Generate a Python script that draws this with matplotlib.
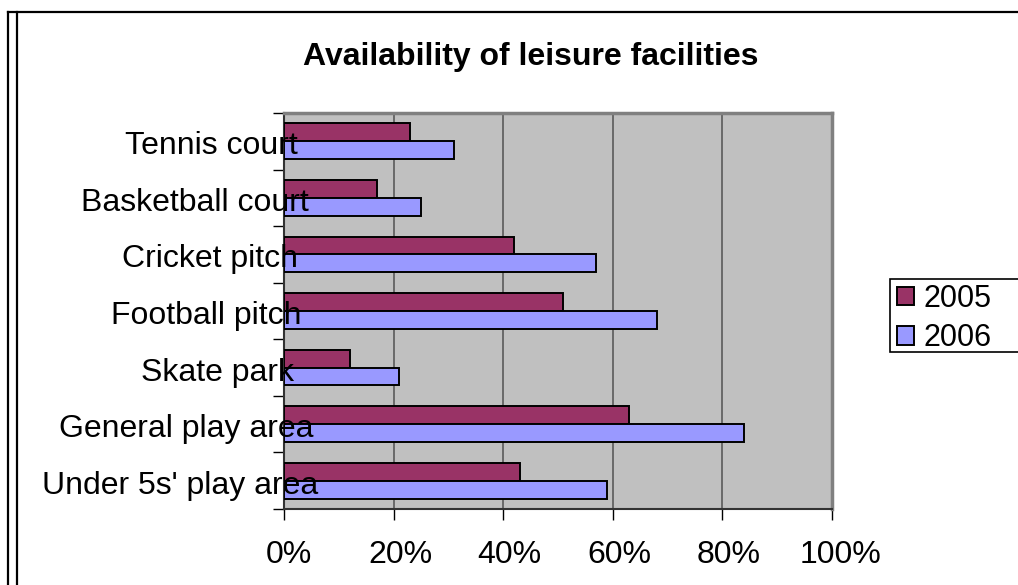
import matplotlib
matplotlib.use("Agg")
import matplotlib.pyplot as plt
from matplotlib.patches import Patch, Rectangle
from matplotlib.lines import Line2D
import numpy as np

plt.rcParams['font.family'] = ['Liberation Sans', 'DejaVu Sans']

# data, top to bottom as in the chart
facilities = ["Tennis court", "Basketball court", "Cricket pitch", "Football pitch",
              "Skate park", "General play area", "Under 5s' play area"]
pct_2005 = [23, 17, 42, 51, 12, 63, 43]
pct_2006 = [31, 25, 57, 68, 21, 84, 59]
years = ["2005", "2006"]
colors = ["#993366", "#9999FF"]
xticks = [0, 20, 40, 60, 80, 100]

W, H = 1018, 585
fig = plt.figure(figsize=(W / 100, H / 100), dpi=100)

# outer double border
for x0 in (8, 17):
    fig.add_artist(Line2D([x0 / W, x0 / W], [0, 1 - 12 / H], transform=fig.transFigure, color='black', lw=1.6))
fig.add_artist(Line2D([8 / W, 1], [1 - 12 / H, 1 - 12 / H], transform=fig.transFigure, color='black', lw=1.6))

ax = fig.add_axes([284 / W, 1 - 509 / H, (832 - 284) / W, (509 - 113) / H])
ax.set_facecolor('#C0C0C0')

n = len(facilities)
ypos = np.arange(n)[::-1]  # first category at top
h = 0.315
ax.barh(ypos + h / 2, pct_2005, height=h, color=colors[0], edgecolor='black', linewidth=1.4, zorder=3)
ax.barh(ypos - h / 2, pct_2006, height=h, color=colors[1], edgecolor='black', linewidth=1.4, zorder=3)

ax.set_xlim(0, 100)
ax.set_ylim(-0.5, n - 0.5)

# x axis ticks (labels placed below as figure text)
ax.set_xticks(xticks)
ax.set_xticklabels([])
ax.tick_params(axis='x', direction='out', length=8, width=1, color='black')
ax.xaxis.grid(True, color='#5a5a5a', linewidth=1.2, zorder=0)

# y axis: tick marks between categories
ax.set_yticks(np.arange(-0.5, n, 1.0))
ax.set_yticklabels([])
ax.tick_params(axis='y', direction='out', length=8, width=1, color='black')

for s in ['top', 'right']:
    ax.spines[s].set_color('#808080')
    ax.spines[s].set_linewidth(2.5)
for s in ['left', 'bottom']:
    ax.spines[s].set_color('#333333')
    ax.spines[s].set_linewidth(1.5)
ax.set_axisbelow(True)

fig.text(531 / W, 1 - 57 / H, "Availability of leisure facilities", ha='center', va='center',
         fontsize=23, fontweight='bold')

# labels as figure text so they sit over the plot area like the original
ylabels = [fig.text(0, 0, name, fontsize=23, ha='left', va='baseline', zorder=5) for name in facilities]
xlabels = [fig.text(0, 0, f"{v}%", fontsize=23, ha='left', va='baseline', zorder=5) for v in xticks]

fig.canvas.draw()
r = fig.canvas.get_renderer()
to_px = ax.transData
for t, y in zip(ylabels, ypos):
    w = t.get_window_extent(r).width
    yc = to_px.transform((0, y))[1]
    t.set_position(((263 - 0.8 * w) / W, (yc - 13) / H))
for t, v in zip(xlabels, xticks):
    w = t.get_window_extent(r).width
    xc = to_px.transform((v, 0))[0]
    t.set_position(((xc - 0.4 * w) / W, 1 - 563 / H))

# legend: box runs off the right edge
fig.add_artist(Rectangle((890 / W, 1 - 352 / H), 200 / W, 73 / H, transform=fig.transFigure,
                         facecolor='white', edgecolor='black', linewidth=1.2, zorder=4))
handles = [Patch(facecolor=c, edgecolor='black', linewidth=1.4) for c in colors]
leg = fig.legend(handles, years, loc='upper left', bbox_to_anchor=(894 / W, 1 - 281 / H),
                 bbox_transform=fig.transFigure, fontsize=22, frameon=False,
                 handlelength=0.55, handleheight=0.55, handletextpad=0.3, borderpad=0.1,
                 labelspacing=0.3, borderaxespad=0)
leg.set_zorder(6)

fig.savefig('out.png', dpi=100)
